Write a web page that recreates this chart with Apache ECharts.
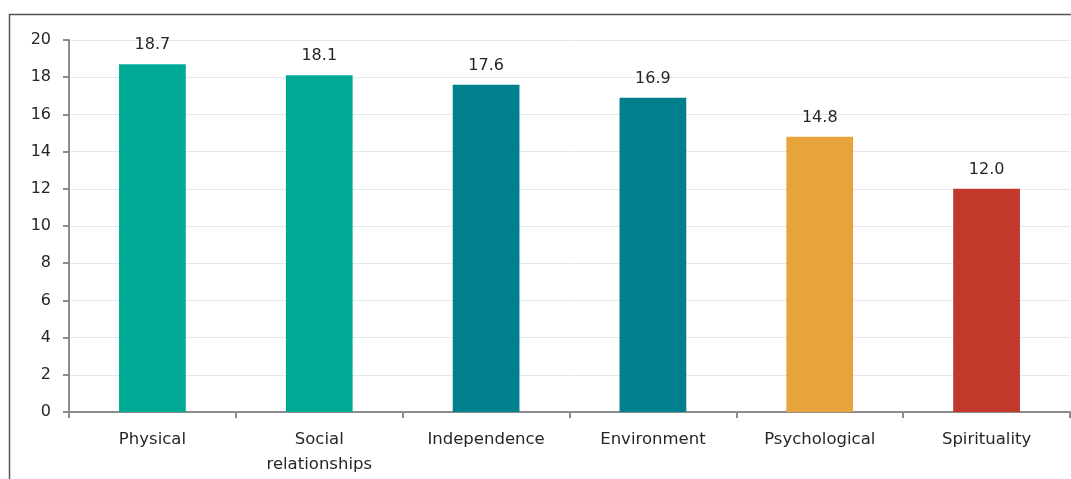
<!DOCTYPE html>
<html>
<head>
<meta charset="utf-8">
<script src="https://cdn.jsdelivr.net/npm/echarts@6/dist/echarts.min.js"></script>
<style>
  html, body { margin: 0; padding: 0; background: #fff; }
  #chart { width: 1071px; height: 479px; }
</style>
</head>
<body>
<div id="chart"></div>
<script>
// Mean domain scores
const categories = ['Physical', 'Social\nrelationships', 'Independence', 'Environment', 'Psychological', 'Spirituality'];
const scores = [18.7, 18.1, 17.6, 16.9, 14.8, 12.0];
const barColors = ['#00A896', '#00A896', '#007F8C', '#007F8C', '#E8A43C', '#C0392B'];

const chart = echarts.init(document.getElementById('chart'), null, { renderer: 'canvas' });
const font = '"DejaVu Sans", sans-serif';

chart.setOption({
  animation: false,
  backgroundColor: '#ffffff',
  textStyle: { fontFamily: font },
  graphic: [{
    type: 'polyline',
    shape: { points: [[9.5, 480], [9.5, 14.5], [1071, 14.5]] },
    style: { stroke: '#555555', lineWidth: 1.5, fill: null },
    silent: true
  }],
  grid: { left: 69, right: 1, top: 40, bottom: 67, containLabel: false },
  xAxis: {
    type: 'category',
    data: categories,
    axisLine: { lineStyle: { color: '#8c8c8c', width: 2 } },
    axisTick: { show: true, length: 6, lineStyle: { color: '#8c8c8c', width: 2 } },
    axisLabel: { color: '#262626', fontSize: 16.5, margin: 15, lineHeight: 25, fontFamily: font }
  },
  yAxis: {
    type: 'value',
    min: 0,
    max: 20,
    interval: 2,
    axisLine: { show: true, lineStyle: { color: '#8c8c8c', width: 2 } },
    axisTick: { show: true, length: 6, lineStyle: { color: '#8c8c8c', width: 2 } },
    axisLabel: { color: '#262626', fontSize: 16, margin: 18, fontFamily: font },
    splitLine: { lineStyle: { color: '#e3e8ef', width: 1 } }
  },
  series: [{
    type: 'bar',
    data: scores.map((v, i) => ({ value: v, itemStyle: { color: barColors[i] } })),
    barWidth: '40%',
    label: {
      show: true,
      position: 'top',
      distance: 11,
      color: '#262626',
      fontSize: 16,
      fontFamily: font,
      formatter: p => p.value.toFixed(1)
    }
  }]
});
</script>
</body>
</html>
